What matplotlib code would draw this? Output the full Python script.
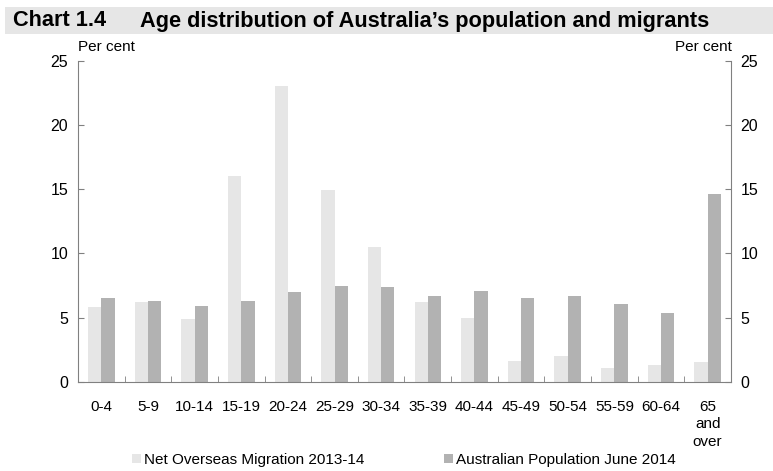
import matplotlib.pyplot as plt
from matplotlib.patches import Patch, Rectangle
import numpy as np

plt.rcParams['font.family'] = ['Liberation Sans', 'DejaVu Sans']

age_groups = ['0-4', '5-9', '10-14', '15-19', '20-24', '25-29', '30-34', '35-39',
              '40-44', '45-49', '50-54', '55-59', '60-64', '65\nand\nover']
migration = [5.8, 6.2, 4.9, 16.0, 23.0, 14.9, 10.5, 6.2, 5.0, 1.65, 2.0, 1.05, 1.3, 1.55]
population = [6.5, 6.3, 5.9, 6.3, 7.0, 7.5, 7.35, 6.65, 7.1, 6.55, 6.65, 6.05, 5.35, 14.65]

LIGHT = '#E6E6E6'
DARK = '#B2B2B2'
AXIS = '#808080'

fig = plt.figure(figsize=(7.73, 4.71), dpi=100)

# title band
fig.patches.append(Rectangle((0.007, 1 - 34 / 471), 0.993, 27 / 471, transform=fig.transFigure,
                             facecolor=LIGHT, edgecolor='none', zorder=0))
fig.text(13 / 773, 1 - 21 / 471, 'Chart 1.4', fontsize=15.7, fontweight='bold', va='center')
fig.text(140 / 773, 1 - 21 / 471, 'Age distribution of Australia\u2019s population and migrants',
         fontsize=15.7, fontweight='bold', va='center')

ax = fig.add_axes([78 / 773, 1 - 382 / 471, (731 - 78) / 773, (382 - 60.5) / 471])
x = np.arange(len(age_groups))
w = 0.285
ax.bar(x - w / 2, migration, width=w, color=LIGHT, zorder=2)
ax.bar(x + w / 2, population, width=w, color=DARK, zorder=2)

ax.set_xlim(-0.5, len(age_groups) - 0.5)
ax.set_ylim(0, 25)
ax.set_yticks([0, 5, 10, 15, 20, 25])
ax.set_xticks(x)
ax.set_xticklabels(age_groups, fontsize=11, linespacing=1.3, va='top')
ax.set_xticks(np.arange(0.5, len(age_groups) - 0.5), minor=True)
ax.tick_params(axis='x', which='major', length=0, pad=13)
ax.tick_params(axis='x', which='minor', length=4, direction='in', color=AXIS)
ax.tick_params(axis='y', length=4, direction='in', color=AXIS, labelsize=11.5,
               labelright=True, right=True, pad=7)

for side in ['left', 'right', 'bottom']:
    ax.spines[side].set_color(AXIS)
ax.spines['top'].set_visible(False)

fig.text(78 / 773, 1 - 47 / 471, 'Per cent', fontsize=11, va='center', ha='left')
fig.text(732 / 773, 1 - 47 / 471, 'Per cent', fontsize=11, va='center', ha='right')

handles = [Patch(facecolor=LIGHT, edgecolor='none'), Patch(facecolor=DARK, edgecolor='none')]
fig.legend(handles, ['Net Overseas Migration 2013-14', 'Australian Population June 2014'],
           loc='center', bbox_to_anchor=(404 / 773, 1 - 460 / 471), ncol=2, frameon=False,
           fontsize=11, handlelength=0.6, handleheight=0.6, handletextpad=0.2,
           columnspacing=5.2)

fig.savefig('out.png', dpi=100)
